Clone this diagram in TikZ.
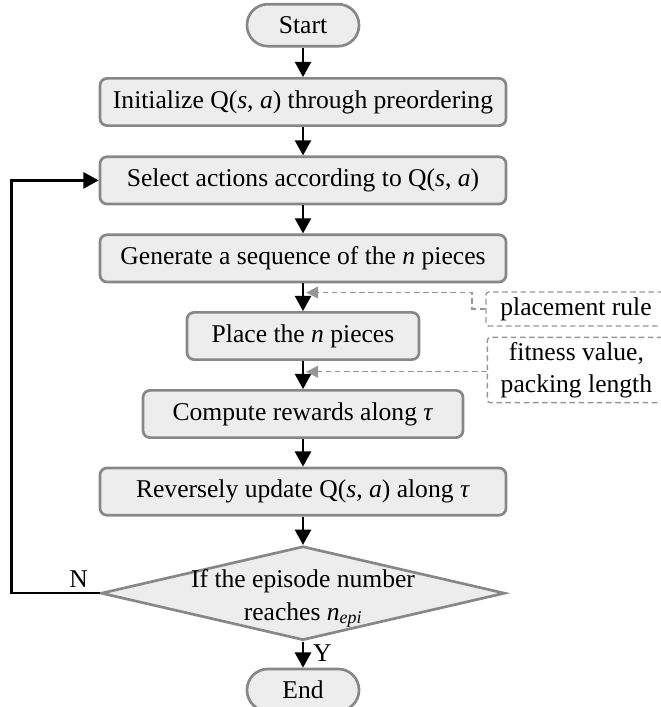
\documentclass[tikz,border=0pt]{standalone}
\usepackage{fontspec}
\setmainfont{Liberation Serif}
\usetikzlibrary{arrows.meta,positioning,shapes.geometric,calc}
\definecolor{boxfill}{RGB}{237,237,237}
\definecolor{boxline}{RGB}{135,135,135}
\definecolor{notegray}{RGB}{150,150,150}
\begin{document}
\begin{tikzpicture}[font=\fontsize{18.2}{23}\selectfont]
  %----- styles
  \tikzset{
    proc/.style  ={draw=boxline,fill=boxfill,line width=1.9pt,rounded corners=5pt,minimum width=10.15cm,minimum height=1.18cm,align=center},
    term/.style  ={proc,rounded corners=0.52cm,minimum width=2.8cm,minimum height=1.05cm},
    decide/.style={diamond,draw=boxline,fill=boxfill,line width=1.9pt,minimum width=10.1cm,minimum height=2.35cm,inner sep=0pt},
    note/.style  ={draw=notegray,dash pattern=on 4pt off 2.5pt,line width=1pt,rounded corners=2pt,align=center},
    arrow/.style ={-{Triangle[length=3.8mm,width=4mm]},line width=1.8pt},
    hint/.style  ={-{Triangle[length=3mm,width=3mm,fill=notegray]},draw=notegray,dash pattern=on 4pt off 2.5pt,line width=1pt}
  }
  \useasboundingbox (0,0) rectangle (16.5,-17.675);

  %----- nodes
  \node[term] (start) at (7.575,-0.63) {Start};
  \node[proc] (init)  at (7.575,-2.55) {Initialize Q(\textit{s}, \textit{a}) through preordering};
  \node[proc] (select) at (7.575,-4.51) {Select actions according to Q(\textit{s}, \textit{a})};
  \node[proc] (gen)   at (7.575,-6.46) {Generate a sequence of the \textit{n} pieces};
  \node[proc,minimum width=5.8cm]  (place)   at (7.575,-8.4)  {Place the \textit{n} pieces};
  \node[proc,minimum width=8cm]    (compute) at (7.575,-10.35) {Compute rewards along \textit{τ}};
  \node[proc] (update) at (7.575,-12.29) {Reversely update Q(\textit{s}, \textit{a}) along \textit{τ}};

  % decision diamond and its text
  \node[decide] (check) at (7.575,-14.83) {};
  \node[align=center] (checktxt) at ([yshift=-4pt]check.center) {If the episode number\\reaches \textit{n}\textsubscript{\textit{epi}}};

  \node[term] (end) at (7.575,-17.25) {End};

  % dashed side notes (right edge runs off the page)
  \node[note,minimum width=4.5cm,minimum height=0.85cm] (rule) at (14.4,-7.725) {placement rule};
  \node[note,minimum width=4.45cm,minimum height=1.6cm] (fit) at (14.41,-9.25) {fitness value,\\packing length};

  %----- connections
  \draw[arrow] (start) -- (init);
  \draw[arrow] (init) -- (select);
  \draw[arrow] (select) -- (gen);
  \draw[arrow] (gen) -- (place);
  \draw[arrow] (place) -- (compute);
  \draw[arrow] (compute) -- (update);
  \draw[arrow] (update) -- (check);
  \draw[arrow] (check) -- node[right=3pt,yshift=1pt] {Y} (end);

  % back loop on N
  \draw[arrow] (check.west) -- node[above,pos=0.24] {N} ($(check.west)-(2.2,0)$) |- (select.west);

  %----- note arrows into the main line
  \coordinate (rulein) at ($(gen.south)+(0.08,-0.23)$);
  \coordinate (fitin)  at ($(place.south)+(0.08,-0.27)$);
  \draw[hint] (rule.west) -- ++(-0.33,0) |- (rulein);
  \draw[hint] (fit.west |- fitin) -- (fitin);
\end{tikzpicture}
\end{document}
